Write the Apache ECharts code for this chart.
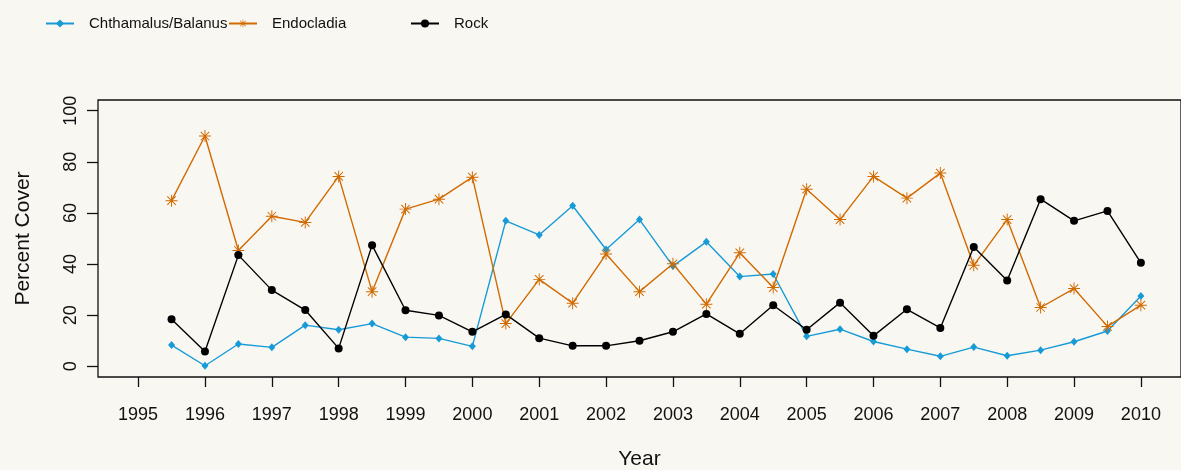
<!DOCTYPE html>
<html>
<head>
<meta charset="utf-8">
<script src="https://cdn.jsdelivr.net/npm/echarts@6/dist/echarts.min.js"></script>
<style>
html,body{margin:0;padding:0;background:#f9f7f2;}
#chart{width:1181px;height:470px;}
</style>
</head>
<body>
<div id="chart"></div>
<script>
var years = [1995.5,1996,1996.5,1997,1997.5,1998,1998.5,1999,1999.5,2000,2000.5,2001,2001.5,2002,2002.5,2003,2003.5,2004,2004.5,2005,2005.5,2006,2006.5,2007,2007.5,2008,2008.5,2009,2009.5,2010];
var chthamalus = [8.3,0.2,8.7,7.4,16.1,14.3,16.7,11.4,10.9,7.8,56.9,51.4,62.8,45.7,57.4,39.2,48.7,35.1,36.1,11.7,14.5,9.7,6.7,3.9,7.5,4.1,6.3,9.6,13.8,27.5];
var endocladia = [64.8,90.1,45.3,58.7,56.3,74.3,29.2,61.5,65.4,74.0,16.7,34.0,24.7,43.9,29.2,40.1,24.3,44.4,30.8,69.3,57.4,74.3,65.8,75.6,39.5,57.4,23.0,30.4,15.6,23.9];
var rock = [18.4,5.8,43.5,29.8,22.0,7.0,47.4,21.9,19.9,13.5,20.3,11.0,8.0,8.0,10.0,13.5,20.5,12.7,23.9,14.3,24.9,11.9,22.3,15.0,46.7,33.6,65.4,56.9,60.8,40.5];
var xTicks = [1995,1996,1997,1998,1999,2000,2001,2002,2003,2004,2005,2006,2007,2008,2009,2010];
var yTicks = [0,20,40,60,80,100];
var seriesNames = ['Chthamalus/Balanus','Endocladia','Rock'];

function pairs(vals){ return years.map(function(y,i){ return [y, vals[i]]; }); }

var asterisk = 'path://M9.2 0L10.8 0L10.8 20L9.2 20Z M0 9.2L20 9.2L20 10.8L0 10.8Z M3.5 2.37L17.63 16.5L16.5 17.63L2.37 3.5Z M17.63 3.5L3.5 17.63L2.37 16.5L16.5 2.37Z';

var FONT = 'Liberation Sans, Arial, sans-serif';
var chart = echarts.init(document.getElementById('chart'));
function leg(name, left){
  return {data:[name], left:left, top:11, itemWidth:28, itemHeight:10, itemGap:0,
    textStyle:{fontFamily:FONT, fontSize:15, color:'#111', padding:[0,0,0,10]}};
}
chart.setOption({
  backgroundColor:'#f9f7f2',
  animation:false,
  legend:[leg(seriesNames[0],40), leg(seriesNames[1],223), leg(seriesNames[2],405)],
  grid:{left:98, top:100, right:0, bottom:93, show:true, borderColor:'#111', borderWidth:1.3,
    backgroundColor:'transparent', containLabel:false, outerBoundsMode:'none'},
  xAxis:{type:'value', min:1994.4, max:2010.6,
    name:'Year', nameLocation:'middle', nameGap:72,
    nameTextStyle:{fontFamily:FONT, fontSize:21, color:'#111'},
    axisLine:{show:false, onZero:false}, splitLine:{show:false},
    axisTick:{show:true, length:10, lineStyle:{color:'#111', width:1.3}, customValues:xTicks},
    axisLabel:{fontFamily:FONT, fontSize:18, color:'#111', margin:29, customValues:xTicks,
      formatter:function(v){return String(v);}}
  },
  yAxis:{type:'value', min:-4.2, max:104.2,
    name:'Percent Cover', nameLocation:'middle', nameGap:64, nameRotate:90,
    nameTextStyle:{fontFamily:FONT, fontSize:21, color:'#111'},
    axisLine:{show:false, onZero:false}, splitLine:{show:false},
    axisTick:{show:true, length:11, lineStyle:{color:'#111', width:1.3}, customValues:yTicks},
    axisLabel:{fontFamily:FONT, fontSize:18, color:'#111', margin:18, rotate:90, customValues:yTicks,
      formatter:function(v){return String(v);}}
  },
  series:[
    {name:seriesNames[0], type:'line', data:pairs(chthamalus), symbol:'diamond', symbolSize:[7,8],
      itemStyle:{color:'#179bd7'}, lineStyle:{color:'#179bd7', width:1.4}, z:2},
    {name:seriesNames[1], type:'line', data:pairs(endocladia), symbol:asterisk, symbolSize:12,
      itemStyle:{color:'#d16a00'}, lineStyle:{color:'#d16a00', width:1.4}, z:3},
    {name:seriesNames[2], type:'line', data:pairs(rock), symbol:'circle', symbolSize:8,
      itemStyle:{color:'#000'}, lineStyle:{color:'#000', width:1.4}, z:4}
  ]
});
</script>
</body>
</html>
